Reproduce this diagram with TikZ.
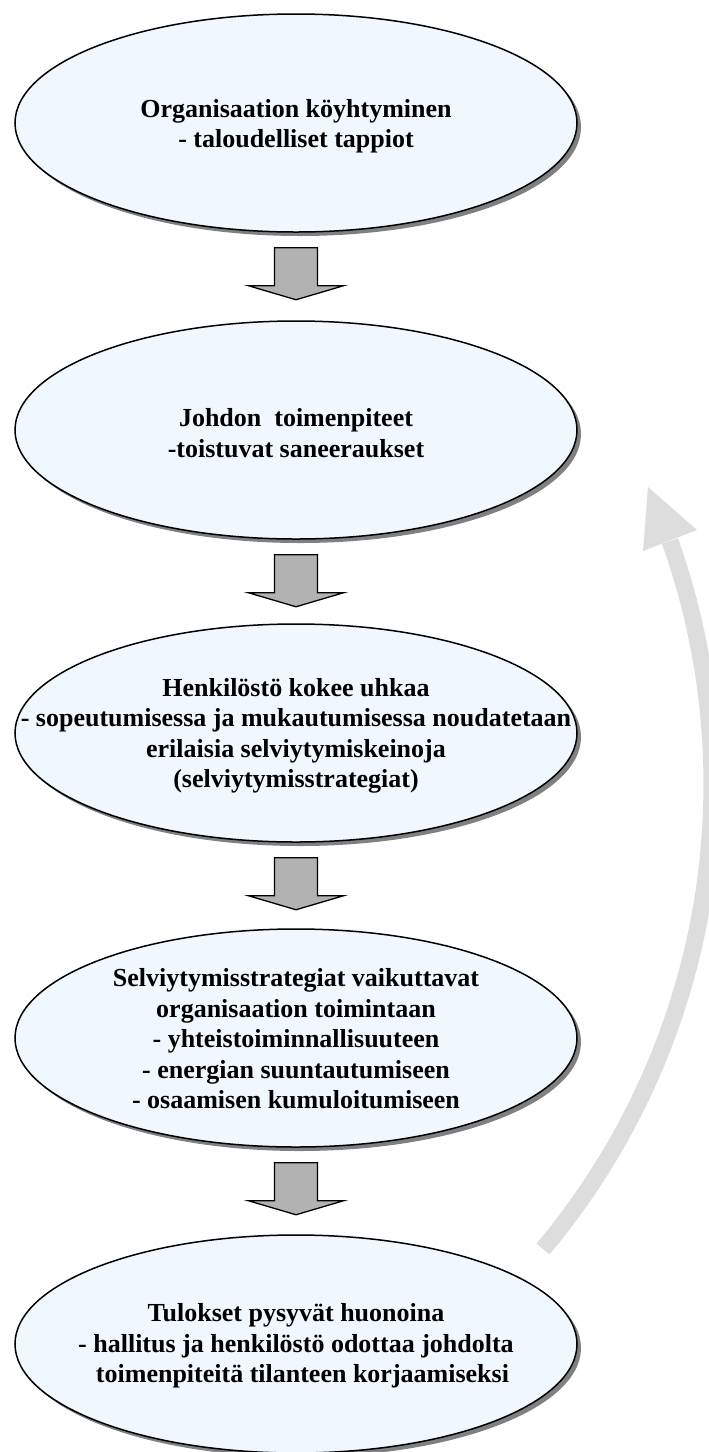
\documentclass[tikz,border=0pt]{standalone}
\usepackage{fontspec}
\setmainfont{Liberation Serif}
\usetikzlibrary{shapes.geometric,shadows,calc}
\definecolor{bubblefill}{HTML}{F0F7FF}
\definecolor{shadowgray}{HTML}{808080}
\definecolor{blockgray}{HTML}{B2B2B2}
\definecolor{loopgray}{HTML}{DDDDDD}
\begin{document}
\begin{tikzpicture}[x=1pt,y=-1pt,
  bubble/.style={ellipse, draw=black, line width=1.5pt, fill=bubblefill,
    minimum width=562pt, minimum height=218pt, inner sep=0pt,
    drop shadow={shadow xshift=4pt, shadow yshift=-4pt, fill=shadowgray, opacity=1}},
  bubbletext/.style={align=center, inner sep=0pt,
    font=\fontsize{26}{30.5}\selectfont\bfseries},
  downarrow/.pic={\filldraw[fill=blockgray, draw=black, line width=1.3pt, line join=miter]
    (-21.5,0) -- (21.5,0) -- (21.5,38) -- (47.5,38) -- (0,52) -- (-47.5,38) -- (-21.5,38) -- cycle;},
  loop/.style={draw=loopgray, line width=17pt}
]
\useasboundingbox (0,0) rectangle (709,1452);
\clip (0,0) rectangle (709,1452);

% the five stages
\node[bubble] (e1) at (296,123) {};
\node[bubble] (e2) at (296,430) {};
\node[bubble] (e3) at (296,733) {};
\node[bubble] (e4) at (296,1038) {};
\node[bubble] (e5) at (296,1344) {};

\node[bubbletext] (t1) at ($(e1.center)+(0,3)$) {Organisaation köyhtyminen\\- taloudelliset tappiot};
\node[bubbletext] (t2) at ($(e2.center)+(0,3)$) {Johdon\ \ toimenpiteet\\-toistuvat saneeraukset};
\node[bubbletext] (t3) at ($(e3.center)+(0,3)$) {Henkilöstö kokee uhkaa\\- sopeutumisessa ja mukautumisessa noudatetaan\\erilaisia selviytymiskeinoja\\(selviytymisstrategiat)};
\node[bubbletext] (t4) at ($(e4.center)+(0,1)$) {Selviytymisstrategiat vaikuttavat\\organisaation toimintaan\\- yhteistoiminnallisuuteen\\- energian suuntautumiseen\\- osaamisen kumuloitumiseen};
\node[bubbletext] (t5) at ($(e5.center)+(0,2)$) {Tulokset pysyvät huonoina\\- hallitus ja henkilöstö odottaa johdolta\\\hspace*{0.5em}toimenpiteitä tilanteen korjaamiseksi};

% block arrows between the stages
\pic at ($(e1.south)+(0,15)$) {downarrow};
\pic at ($(e2.south)+(0,15)$) {downarrow};
\pic at ($(e3.south)+(0,15)$) {downarrow};
\pic at ($(e4.south)+(0,15)$) {downarrow};

% the feedback loop back to management
\coordinate (loopTail) at (543,1249);
\coordinate (loopBase) at (670,541);
\coordinate (loopTip) at (648,487);
\coordinate (loopLeft) at (643,551);
\coordinate (loopRight) at (697,530);
\draw[loop] (loopTail) .. controls (708,1052) and (756,783) .. (loopBase);
\fill[loopgray] (loopTip) -- (loopRight) -- (loopLeft) -- cycle;
\end{tikzpicture}
\end{document}
